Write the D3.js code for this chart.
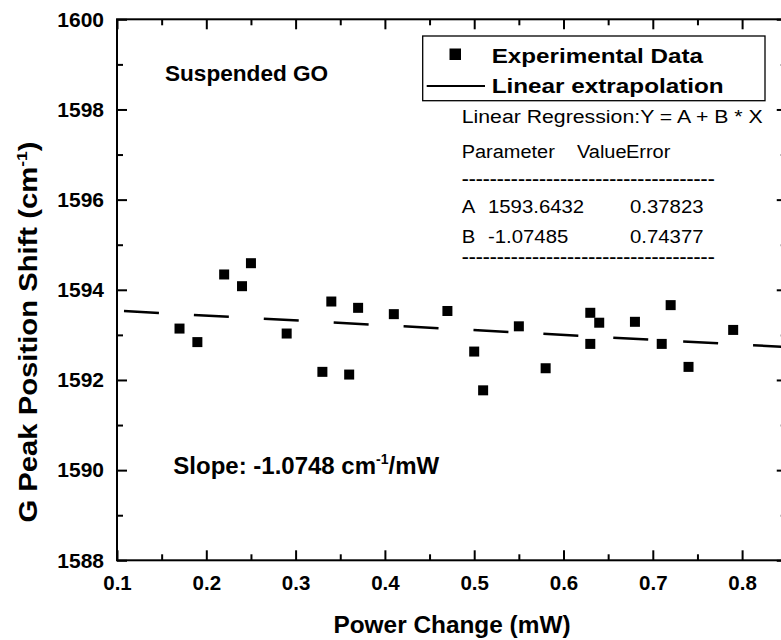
<!DOCTYPE html>
<html>
<head>
<meta charset="utf-8">
<script src="https://cdn.jsdelivr.net/npm/d3@7"></script>
<style>
  body { margin: 0; background: #fff; }
  svg { display: block; font-family: "Liberation Sans", Arial, sans-serif; }
</style>
</head>
<body>
<svg width="781" height="640"></svg>
<script>
// measured points (power change in mW, G peak position in cm-1)
var powerX = [0.17, 0.19, 0.22, 0.24, 0.25, 0.29, 0.33, 0.34, 0.36, 0.37, 0.41,
  0.47, 0.50, 0.51, 0.55, 0.58, 0.63, 0.63, 0.64, 0.68, 0.71, 0.72, 0.74, 0.79];
var shiftY = [1593.14, 1592.84, 1594.34, 1594.08, 1594.59, 1593.03, 1592.18, 1593.74, 1592.12, 1593.60, 1593.46,
  1593.53, 1592.63, 1591.77, 1593.19, 1592.26, 1593.49, 1592.80, 1593.27, 1593.29, 1592.80, 1593.66, 1592.29, 1593.11];

// linear fit shown in the chart
var fitA = 1593.6432;
var fitB = -1.07485;
var fitX = [0.1, 0.85];

var xTicks = [0.1, 0.2, 0.3, 0.4, 0.5, 0.6, 0.7, 0.8];
var xMinor = [0.15, 0.25, 0.35, 0.45, 0.55, 0.65, 0.75];
var yTicks = [1588, 1590, 1592, 1594, 1596, 1598, 1600];
var yMinor = [1589, 1591, 1593, 1595, 1597, 1599];

var regLines = [
  ["Linear Regression:Y = A + B * X"],
  ["Parameter", "Value", "Error"],
  ["A", "1593.6432", "0.37823"],
  ["B", "-1.07485", "0.74377"]
];

var svg = d3.select("svg"),
  margin = { top: 19.3, left: 117 },
  width = 669.75,
  height = 541,
  g = svg.append("g").attr("transform", "translate(" + margin.left + "," + margin.top + ")");

var x = d3.scaleLinear().domain([0.1, 0.85]).range([0, width]);
var y = d3.scaleLinear().domain([1588, 1600]).range([height, 0]);

function styleAxis(sel, size) {
  sel.select(".domain").remove();
  sel.selectAll("line").attr("stroke", "#000").attr("stroke-width", 2);
  sel.selectAll("text").attr("fill", "#000").attr("font-family", "Liberation Sans, Arial, sans-serif")
    .attr("font-weight", "bold").attr("font-size", size);
}

// stretch a text horizontally by a factor (the original export uses wide glyphs)
function stretch(sel, k) {
  sel.each(function() {
    var w = this.getComputedTextLength();
    d3.select(this).attr("textLength", w * k).attr("lengthAdjust", "spacingAndGlyphs");
  });
}

// bottom axis
g.append("g").attr("transform", "translate(0," + height + ")")
  .call(d3.axisBottom(x).tickValues(xTicks).tickSize(-10).tickPadding(15).tickFormat(d3.format(".1f")))
  .call(styleAxis, 20.5);
g.append("g").attr("transform", "translate(0," + height + ")")
  .call(d3.axisBottom(x).tickValues(xMinor).tickSize(-6).tickFormat(""))
  .call(styleAxis, 10);
// top axis
g.append("g")
  .call(d3.axisTop(x).tickValues(xTicks).tickSize(-10).tickFormat(""))
  .call(styleAxis, 10);
g.append("g")
  .call(d3.axisTop(x).tickValues(xMinor).tickSize(-6).tickFormat(""))
  .call(styleAxis, 10);
// left axis
g.append("g")
  .call(d3.axisLeft(y).tickValues(yTicks).tickSize(-10).tickPadding(13).tickFormat(d3.format("d")))
  .call(styleAxis, 21);
g.append("g")
  .call(d3.axisLeft(y).tickValues(yMinor).tickSize(-6).tickFormat(""))
  .call(styleAxis, 10);
// right axis
g.append("g").attr("transform", "translate(" + width + ",0)")
  .call(d3.axisRight(y).tickValues(yTicks).tickSize(-10).tickFormat(""))
  .call(styleAxis, 10);
g.append("g").attr("transform", "translate(" + width + ",0)")
  .call(d3.axisRight(y).tickValues(yMinor).tickSize(-6).tickFormat(""))
  .call(styleAxis, 10);

// frame
g.append("rect")
  .attr("width", width).attr("height", height)
  .attr("fill", "none").attr("stroke", "#000").attr("stroke-width", 2);

// fit line
var line = d3.line()
  .x(function(d) { return x(d); })
  .y(function(d) { return y(fitA + fitB * d); });
g.append("path")
  .datum(fitX)
  .attr("fill", "none")
  .attr("stroke", "#000")
  .attr("stroke-width", 2.5)
  .attr("stroke-dasharray", "35,35")
  .attr("stroke-dashoffset", 63)
  .attr("d", line);

// data squares
var pts = d3.range(powerX.length);
g.selectAll(".pt")
  .data(pts)
  .enter().append("rect")
  .attr("class", "pt")
  .attr("x", function(i) { return x(powerX[i]) - 5; })
  .attr("y", function(i) { return y(shiftY[i]) - 5; })
  .attr("width", 10).attr("height", 10)
  .attr("fill", "#000");

// axis titles
svg.append("text")
  .attr("x", 452).attr("y", 632.5)
  .attr("text-anchor", "middle")
  .attr("font-weight", "bold").attr("font-size", 24.4)
  .text("Power Change (mW)");

var yt = svg.append("text")
  .attr("transform", "translate(36.5,332) rotate(-90)")
  .attr("text-anchor", "middle")
  .attr("font-weight", "bold").attr("font-size", 25)
  .attr("textLength", 381).attr("lengthAdjust", "spacingAndGlyphs");
yt.append("tspan").text("G Peak Position Shift (cm");
yt.append("tspan").attr("font-size", 15).attr("dy", -10).text("-1");
yt.append("tspan").attr("dy", 10).text(")");

// annotations
svg.append("text")
  .attr("x", 165).attr("y", 81)
  .attr("font-weight", "bold").attr("font-size", 22.6)
  .text("Suspended GO");

var sl = svg.append("text")
  .attr("x", 173.3).attr("y", 474)
  .attr("font-weight", "bold").attr("font-size", 24);
sl.append("tspan").text("Slope: -1.0748 cm");
sl.append("tspan").attr("font-size", 14).attr("dy", -10).text("-1");
sl.append("tspan").attr("dy", 10).text("/mW");

// legend
var lg = svg.append("g");
lg.append("rect")
  .attr("x", 422.7).attr("y", 36).attr("width", 342.3).attr("height", 64.7)
  .attr("fill", "#fff").attr("stroke", "#000").attr("stroke-width", 1.3);
lg.append("rect")
  .attr("x", 449.5).attr("y", 48.5).attr("width", 11.5).attr("height", 11.5)
  .attr("fill", "#000");
lg.append("line")
  .attr("x1", 426.7).attr("x2", 485).attr("y1", 86).attr("y2", 86)
  .attr("stroke", "#000").attr("stroke-width", 2);
lg.append("text")
  .attr("x", 491.7).attr("y", 63.3)
  .attr("font-weight", "bold").attr("font-size", 19.5)
  .attr("textLength", 211.3).attr("lengthAdjust", "spacingAndGlyphs")
  .text("Experimental Data");
lg.append("text")
  .attr("x", 491.7).attr("y", 92.5)
  .attr("font-weight", "bold").attr("font-size", 19.5)
  .attr("textLength", 232).attr("lengthAdjust", "spacingAndGlyphs")
  .text("Linear extrapolation");

// regression report
var rg = svg.append("g").attr("font-size", 19.2).attr("fill", "#000");
rg.append("text").attr("x", 461.7).attr("y", 123.3)
  .attr("textLength", 301).attr("lengthAdjust", "spacingAndGlyphs")
  .text(regLines[0][0]);
var colX = [461.7, 577, 626];
rg.selectAll(".hdr").data(regLines[1]).enter().append("text")
  .attr("class", "hdr")
  .attr("x", function(d, i) { return colX[i]; }).attr("y", 157.5)
  .text(function(d) { return d; })
  .call(stretch, 1.04);
var rowX = [461.7, 488, 630];
[regLines[2], regLines[3]].forEach(function(row, r) {
  rg.selectAll(".row" + r).data(row).enter().append("text")
    .attr("class", "row" + r)
    .attr("x", function(d, i) { return rowX[i]; }).attr("y", 213.3 + r * 29.5)
    .text(function(d) { return d; })
    .call(stretch, 1.06);
});
[179.3, 257.3].forEach(function(yy) {
  rg.append("text").attr("x", 461.7).attr("y", yy + 4.3)
    .attr("font-size", 14).attr("font-weight", "bold")
    .attr("textLength", 253).attr("lengthAdjust", "spacingAndGlyphs")
    .text("------------------------------------");
});
</script>
</body>
</html>
